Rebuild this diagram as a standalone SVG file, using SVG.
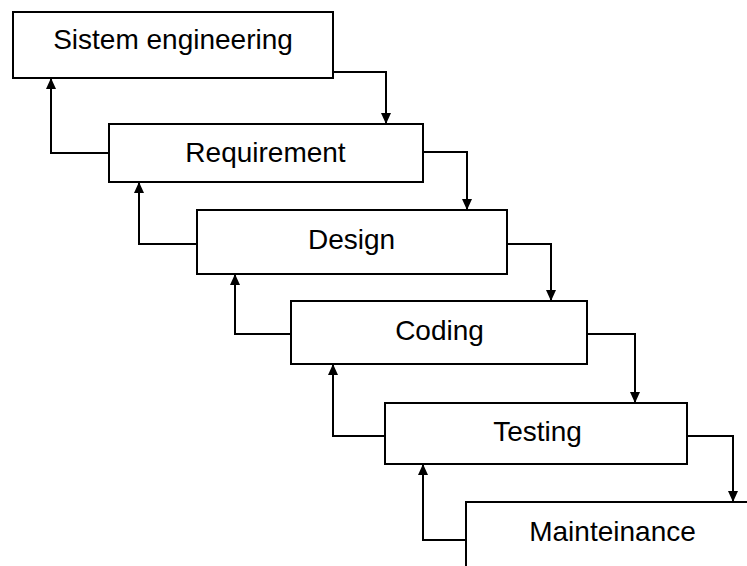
<svg xmlns="http://www.w3.org/2000/svg" width="747" height="566" viewBox="0 0 747 566">
<style>
.box{fill:#fff;stroke:#000;stroke-width:2}
.lbl{font-family:"Liberation Sans",Arial,sans-serif;font-size:28px;fill:#000;text-anchor:middle}
.con{fill:none;stroke:#000;stroke-width:2;marker-end:url(#ah)}
</style>
<defs>
<marker id="ah" viewBox="0 0 11 10" refX="11" refY="5" markerWidth="11" markerHeight="10" markerUnits="userSpaceOnUse" orient="auto">
<path d="M0,0 L11,5 L0,10 Z" fill="#000"/>
</marker>
</defs>
<rect width="747" height="566" fill="#fff"/>
<g id="n1"><rect class="box" x="13" y="12" width="320" height="66"/><text class="lbl" x="173" y="49">Sistem engineering</text></g>
<g id="n2"><rect class="box" x="109" y="124" width="314" height="58"/><text class="lbl" x="265.5" y="162">Requirement</text></g>
<g id="n3"><rect class="box" x="197" y="210" width="310" height="64"/><text class="lbl" x="351.5" y="249">Design</text></g>
<g id="n4"><rect class="box" x="291" y="301" width="296" height="63"/><text class="lbl" x="439.5" y="340">Coding</text></g>
<g id="n5"><rect class="box" x="385" y="403" width="302" height="61"/><text class="lbl" x="537.5" y="441">Testing</text></g>
<g id="n6"><rect class="box" x="466" y="502" width="300" height="80"/><text class="lbl" x="612.5" y="541">Mainteinance</text></g>
<g id="connectors">
<path class="con" d="M333,72 H386 V124"/>
<path class="con" d="M423,152 H467 V210"/>
<path class="con" d="M507,244 H551 V301"/>
<path class="con" d="M587,334 H635 V403"/>
<path class="con" d="M687,436 H733 V502"/>
<path class="con" d="M109,153 H51 V78"/>
<path class="con" d="M197,244 H139 V182"/>
<path class="con" d="M291,334 H235 V274"/>
<path class="con" d="M385,436 H333 V364"/>
<path class="con" d="M466,540 H423 V464"/>
</g>
</svg>
